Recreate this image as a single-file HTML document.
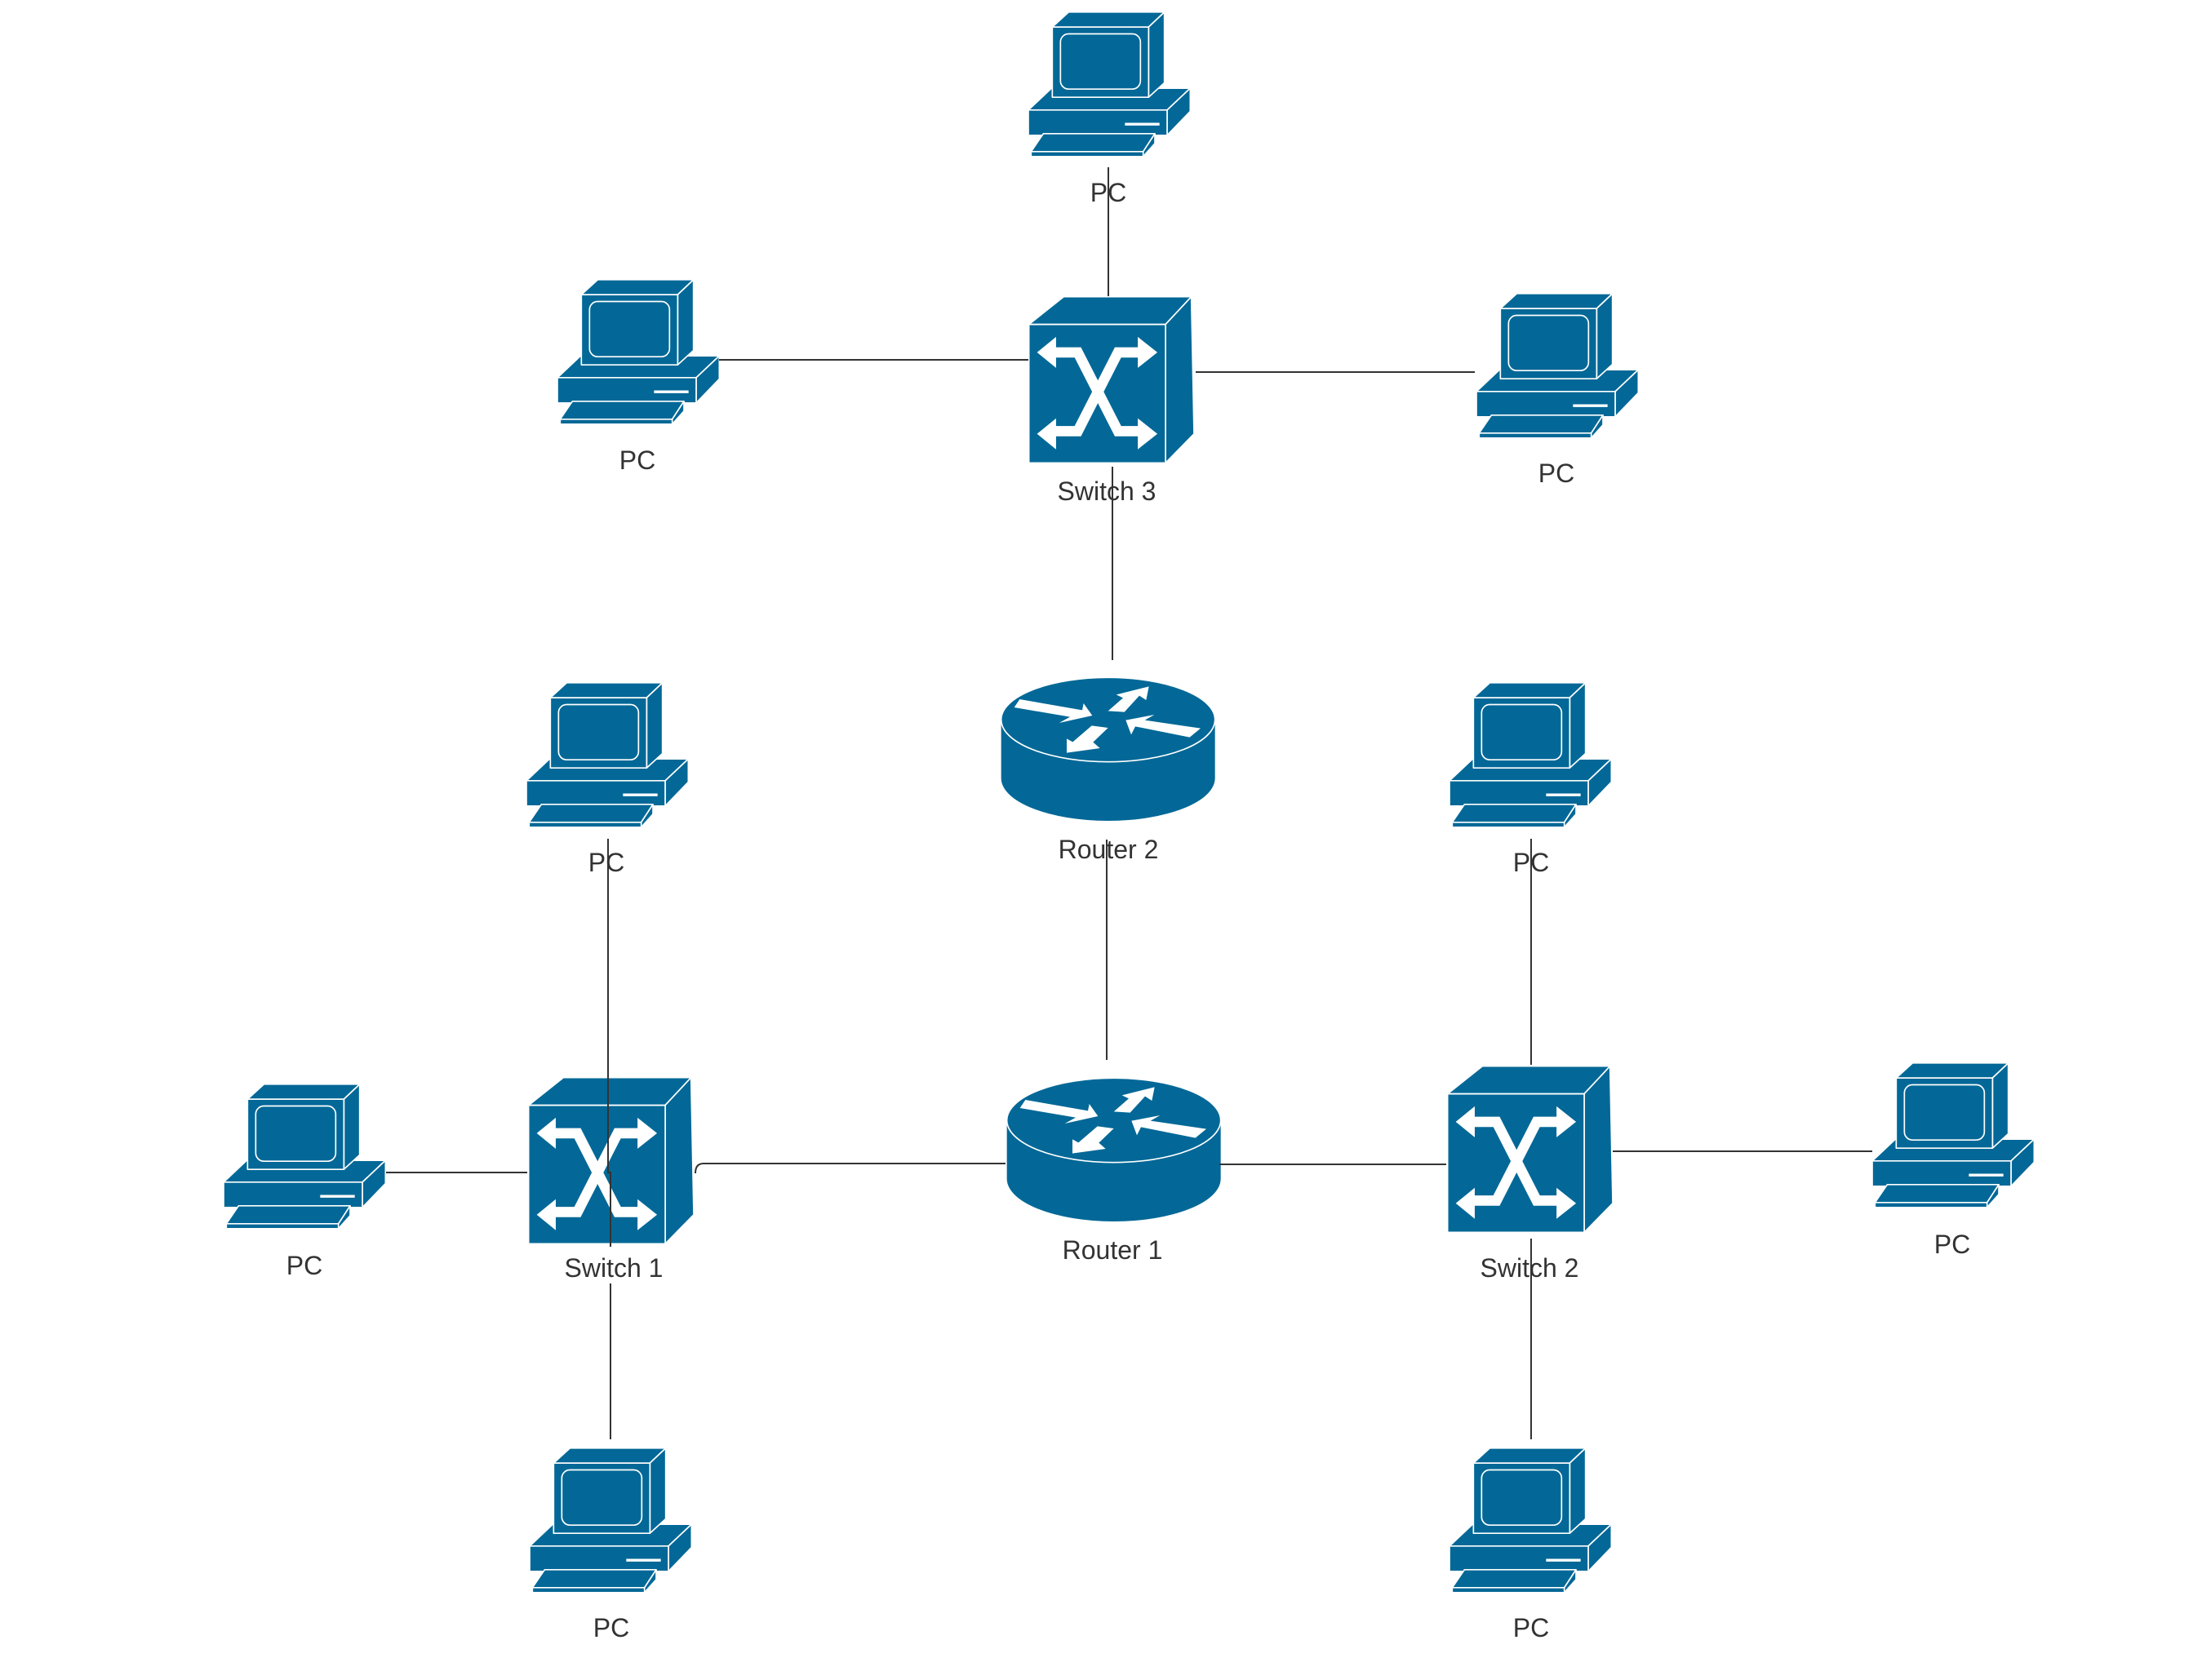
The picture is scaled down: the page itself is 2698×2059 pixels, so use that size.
<!DOCTYPE html>
<html><head><meta charset="utf-8"><style>
html,body{margin:0;padding:0;background:#fff;}
svg{display:block;}
text{font-family:"Liberation Sans",sans-serif;font-size:32px;fill:#333;text-anchor:middle;}
</style></head><body>
<svg width="2698" height="2059" viewBox="0 0 2698 2059" xmlns="http://www.w3.org/2000/svg">
<defs>
<symbol id="pc" viewBox="90 40 600 545">
<g fill="#036897" stroke="#fff" stroke-width="5" stroke-linejoin="round">
<polygon points="175,325 685,325 600,405 90,405"/>
<polygon points="600,405 685,325 685,410 600,498"/>
<rect x="90" y="405" width="510" height="93"/>
<polygon points="178,100 238,45 590,45 532,100"/>
<polygon points="532,100 590,45 590,305 532,358"/>
<rect x="178" y="100" width="354" height="258"/>
<rect x="208" y="125" width="294" height="203" rx="30"/>
<polygon points="100,558 145,492 555,492 512,558"/>
<polygon points="512,558 555,492 555,528 512,576"/>
<rect x="100" y="558" width="412" height="18"/>
</g>
<line x1="445" y1="457" x2="572" y2="457" stroke="#fff" stroke-width="10"/>
</symbol>
<symbol id="sw" viewBox="178 68 620 622">
<g fill="#036897" stroke="#fff" stroke-width="5" stroke-linejoin="round">
<polygon points="182,172 310,70 780,70 685,172"/>
<polygon points="685,172 780,70 790,575 685,682"/>
<rect x="182" y="172" width="503" height="510"/>
</g>
<g fill="none" stroke="#fff" stroke-width="38">
<polyline points="270,275 362,275 510,565 595,565"/>
<polyline points="270,565 362,565 510,275 595,275"/>
</g>
<g fill="#fff">
<polygon points="212,275 282,218 282,332"/>
<polygon points="212,575 282,518 282,632"/>
<polygon points="655,275 583,218 583,332"/>
<polygon points="655,575 583,518 583,632"/>
</g>
</symbol>
<symbol id="rt" viewBox="72 75 795 540">
<path d="M77,240 L77,455 A393,157 0 0 0 863,455 L863,240 Z" fill="#036897"/>
<ellipse cx="470" cy="240" rx="393" ry="155" fill="#036897" stroke="#fff" stroke-width="5"/>
<g fill="#fff">
<polygon points="125,195 145,165 375,205 380,180 412,225 290,252 330,230"/>
<polygon points="470,208 525,160 500,148 620,118 610,168 585,152 530,212"/>
<polygon points="810,272 770,305 570,265 555,295 535,242 640,222 605,242"/>
<polygon points="470,270 415,323 440,345 318,362 318,310 340,322 410,262"/>
</g>
</symbol>
</defs>

<use href="#pc" x="1260" y="13" width="200" height="182"/>
<use href="#pc" x="683" y="341" width="200" height="182"/>
<use href="#pc" x="1809" y="358" width="200" height="182"/>
<use href="#pc" x="645" y="835" width="200" height="182"/>
<use href="#pc" x="1776" y="835" width="200" height="182"/>
<use href="#pc" x="274" y="1327" width="200" height="182"/>
<use href="#pc" x="2294" y="1301" width="200" height="182"/>
<use href="#pc" x="649" y="1773" width="200" height="182"/>
<use href="#pc" x="1776" y="1773" width="200" height="182"/>

<use href="#sw" x="1259" y="363" width="207" height="207"/>
<use href="#sw" x="646" y="1320" width="207" height="207"/>
<use href="#sw" x="1772" y="1306" width="207" height="207"/>

<use href="#rt" x="1225" y="827" width="265" height="180"/>
<use href="#rt" x="1232" y="1318" width="265" height="180"/>

<g stroke="#333" stroke-width="2" fill="none">
<line x1="1358" y1="205" x2="1358" y2="363"/>
<line x1="881" y1="441" x2="1260" y2="441"/>
<line x1="1465" y1="456" x2="1807" y2="456"/>
<line x1="1363" y1="572" x2="1363" y2="809"/>
<line x1="1356" y1="1029" x2="1356" y2="1299"/>
<polyline points="745,1028 745,1437 748,1437 748,1528"/>
<line x1="1876" y1="1028" x2="1876" y2="1305"/>
<line x1="473" y1="1437" x2="646" y2="1437"/>
<path d="M852,1438 Q852,1426 862,1426 L1232,1426"/>
<line x1="1494" y1="1427" x2="1772" y2="1427"/>
<line x1="1976" y1="1411" x2="2294" y2="1411"/>
<line x1="748" y1="1573" x2="748" y2="1764"/>
<line x1="1876" y1="1518" x2="1876" y2="1764"/>
</g>

<text x="1358" y="247">PC</text>
<text x="781" y="575">PC</text>
<text x="1907" y="591">PC</text>
<text x="743" y="1068">PC</text>
<text x="1876" y="1068">PC</text>
<text x="373" y="1562">PC</text>
<text x="2392" y="1536">PC</text>
<text x="749" y="2006">PC</text>
<text x="1876" y="2006">PC</text>
<text x="1356" y="613">Switch 3</text>
<text x="752" y="1565">Switch 1</text>
<text x="1874" y="1565">Switch 2</text>
<text x="1358" y="1052">Router 2</text>
<text x="1363" y="1543">Router 1</text>
</svg>
</body></html>
